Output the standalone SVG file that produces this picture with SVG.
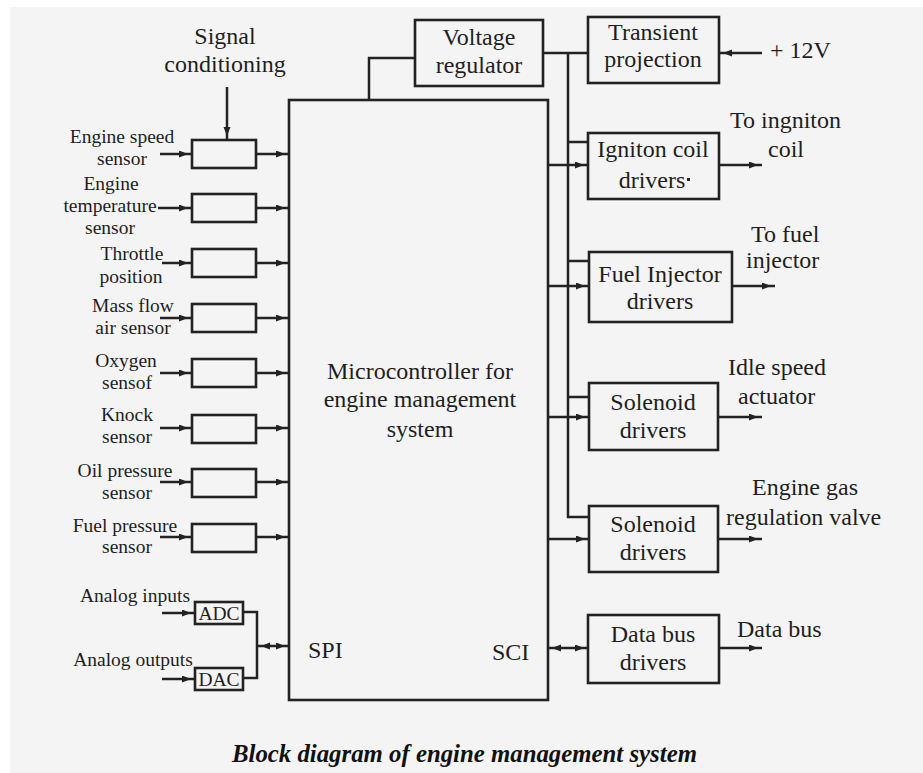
<svg xmlns="http://www.w3.org/2000/svg" width="923" height="773" viewBox="0 0 923 773">
<style>
.ln{fill:none;stroke:#222;stroke-width:2.5;stroke-linejoin:miter}
.bx{fill:none;stroke:#222;stroke-width:2.6}
.t{font-family:"Liberation Serif","Times New Roman",serif;fill:#1e1e1e;font-size:24px}
.s{font-family:"Liberation Serif","Times New Roman",serif;fill:#1e1e1e;font-size:19.5px}
.m{text-anchor:middle}
.cap{font-family:"Liberation Serif","Times New Roman",serif;fill:#111;font-size:24.8px;font-weight:bold;font-style:italic}
</style>
<defs>
<marker id="ah" markerUnits="userSpaceOnUse" markerWidth="14" markerHeight="8" refX="13" refY="3.5" orient="auto-start-reverse">
<path d="M0,0 L9,3.5 L0,7 z" fill="#222"/>
</marker>
</defs>
<rect x="0" y="0" width="923" height="773" fill="#fff"/>
<rect x="10" y="7" width="913" height="766" fill="#f4f4f4"/>

<g id="mcu">
<rect class="bx" x="289" y="100" width="259" height="600"/>
<text class="t m" x="420" y="379">Microcontroller for</text>
<text class="t m" x="420" y="407">engine management</text>
<text class="t m" x="420" y="437">system</text>
<text class="t" x="308" y="658">SPI</text>
<text class="t" x="492" y="660">SCI</text>
</g>

<g id="voltage-regulator">
<rect class="bx" x="415" y="20" width="128" height="66"/>
<text class="t m" x="479" y="45">Voltage</text>
<text class="t m" x="479" y="73">regulator</text>
</g>

<g id="transient-projection">
<rect class="bx" x="588" y="17" width="131" height="66"/>
<text class="t m" x="653" y="40">Transient</text>
<text class="t m" x="653" y="67">projection</text>
</g>
<g id="plus12v"><text class="t" x="770" y="58">+ 12V</text></g>

<g id="signal-conditioning-label">
<text class="t m" x="225" y="44">Signal</text>
<text class="t m" x="225" y="72">conditioning</text>
</g>

<g id="sc1"><rect class="bx" x="192" y="140" width="64" height="28"/>
<text class="s m" x="122" y="143">Engine speed</text><text class="s m" x="122" y="165">sensor</text></g>
<g id="sc2"><rect class="bx" x="192" y="194" width="64" height="28"/>
<text class="s m" x="111" y="190">Engine</text><text class="s m" x="110" y="212">temperature</text><text class="s m" x="110" y="234">sensor</text></g>
<g id="sc3"><rect class="bx" x="192" y="249" width="64" height="28"/>
<text class="s m" x="132" y="260">Throttle</text><text class="s m" x="131" y="283">position</text></g>
<g id="sc4"><rect class="bx" x="192" y="304" width="64" height="28"/>
<text class="s m" x="133" y="312">Mass flow</text><text class="s m" x="133" y="334">air sensor</text></g>
<g id="sc5"><rect class="bx" x="192" y="359" width="64" height="28"/>
<text class="s m" x="126" y="367">Oxygen</text><text class="s m" x="127" y="389">sensof</text></g>
<g id="sc6"><rect class="bx" x="192" y="415" width="64" height="28"/>
<text class="s m" x="127" y="421">Knock</text><text class="s m" x="127" y="443">sensor</text></g>
<g id="sc7"><rect class="bx" x="192" y="469" width="64" height="28"/>
<text class="s m" x="125" y="477">Oil pressure</text><text class="s m" x="127" y="499">sensor</text></g>
<g id="sc8"><rect class="bx" x="192" y="524" width="64" height="28"/>
<text class="s m" x="125" y="532">Fuel pressure</text><text class="s m" x="127" y="553">sensor</text></g>

<g id="adc"><rect class="bx" x="195" y="602" width="48" height="22"/>
<text class="s m" x="219" y="620">ADC</text>
<text class="s m" x="135" y="602">Analog inputs</text></g>
<g id="dac"><rect class="bx" x="195" y="668" width="48" height="22"/>
<text class="s m" x="219" y="686">DAC</text>
<text class="s m" x="133" y="666">Analog outputs</text></g>

<g id="ignition-drivers">
<rect class="bx" x="588" y="133" width="131" height="66"/>
<text class="t m" x="653" y="157">Igniton coil</text>
<text class="t m" x="652" y="188">drivers</text>
<rect x="687" y="178" width="3" height="3" fill="#222"/>
<text class="t" x="730" y="128">To ingniton</text>
<text class="t" x="768" y="157">coil</text>
</g>
<g id="fuel-injector-drivers">
<rect class="bx" x="589" y="252" width="143" height="70"/>
<text class="t m" x="660" y="282">Fuel Injector</text>
<text class="t m" x="660" y="309">drivers</text>
<text class="t" x="751" y="242">To fuel</text>
<text class="t" x="746" y="268">injector</text>
</g>
<g id="solenoid-drivers-1">
<rect class="bx" x="589" y="383" width="129" height="67"/>
<text class="t m" x="653" y="410">Solenoid</text>
<text class="t m" x="653" y="438">drivers</text>
<text class="t" x="728" y="375">Idle speed</text>
<text class="t" x="738" y="404">actuator</text>
</g>
<g id="solenoid-drivers-2">
<rect class="bx" x="589" y="506" width="129" height="66"/>
<text class="t m" x="653" y="532">Solenoid</text>
<text class="t m" x="653" y="560">drivers</text>
<text class="t" x="752" y="495">Engine gas</text>
<text class="t" x="726" y="525">regulation valve</text>
</g>
<g id="data-bus-drivers">
<rect class="bx" x="588" y="615" width="131" height="68"/>
<text class="t m" x="653" y="642">Data bus</text>
<text class="t m" x="653" y="670">drivers</text>
<text class="t" x="737" y="637">Data bus</text>
</g>

<g id="connectors">
<path class="ln" d="M415,58 H369 V100"/>
<path class="ln" d="M543,53 H588"/>
<path class="ln" d="M568,53 V517 H589"/>
<path class="ln" d="M568,142 H588"/>
<path class="ln" d="M568,261 H589"/>
<path class="ln" d="M568,397 H589"/>
<path class="ln" d="M762,53 H719" marker-end="url(#ah)"/>
<path class="ln" d="M227,87 V140" marker-end="url(#ah)"/>
<path class="ln" d="M160,154 H192" marker-end="url(#ah)"/>
<path class="ln" d="M158,208 H192" marker-end="url(#ah)"/>
<path class="ln" d="M162,263 H192" marker-end="url(#ah)"/>
<path class="ln" d="M160,318 H192" marker-end="url(#ah)"/>
<path class="ln" d="M160,373 H192" marker-end="url(#ah)"/>
<path class="ln" d="M160,428 H192" marker-end="url(#ah)"/>
<path class="ln" d="M160,482 H192" marker-end="url(#ah)"/>
<path class="ln" d="M160,537 H192" marker-end="url(#ah)"/>
<path class="ln" d="M256,154 H289" marker-end="url(#ah)"/>
<path class="ln" d="M256,208 H289" marker-end="url(#ah)"/>
<path class="ln" d="M256,263 H289" marker-end="url(#ah)"/>
<path class="ln" d="M256,318 H289" marker-end="url(#ah)"/>
<path class="ln" d="M256,373 H289" marker-end="url(#ah)"/>
<path class="ln" d="M256,428 H289" marker-end="url(#ah)"/>
<path class="ln" d="M256,482 H289" marker-end="url(#ah)"/>
<path class="ln" d="M256,537 H289" marker-end="url(#ah)"/>
<path class="ln" d="M162,613 H195" marker-end="url(#ah)"/>
<path class="ln" d="M162,679 H195" marker-end="url(#ah)"/>
<path class="ln" d="M243,612 H257 V678 H243"/>
<path class="ln" d="M257,646 H289" marker-start="url(#ah)" marker-end="url(#ah)"/>
<path class="ln" d="M548,165 H588" marker-end="url(#ah)"/>
<path class="ln" d="M548,286 H589" marker-end="url(#ah)"/>
<path class="ln" d="M548,417 H589" marker-end="url(#ah)"/>
<path class="ln" d="M548,539 H589" marker-end="url(#ah)"/>
<path class="ln" d="M548,648 H588" marker-start="url(#ah)" marker-end="url(#ah)"/>
<path class="ln" d="M719,165 H762" marker-end="url(#ah)"/>
<path class="ln" d="M732,286 H775" marker-end="url(#ah)"/>
<path class="ln" d="M718,417 H762" marker-end="url(#ah)"/>
<path class="ln" d="M718,539 H762" marker-end="url(#ah)"/>
<path class="ln" d="M719,648 H762" marker-end="url(#ah)"/>
</g>

<g id="caption"><text class="cap" x="232" y="762">Block diagram of engine management system</text></g>
</svg>
